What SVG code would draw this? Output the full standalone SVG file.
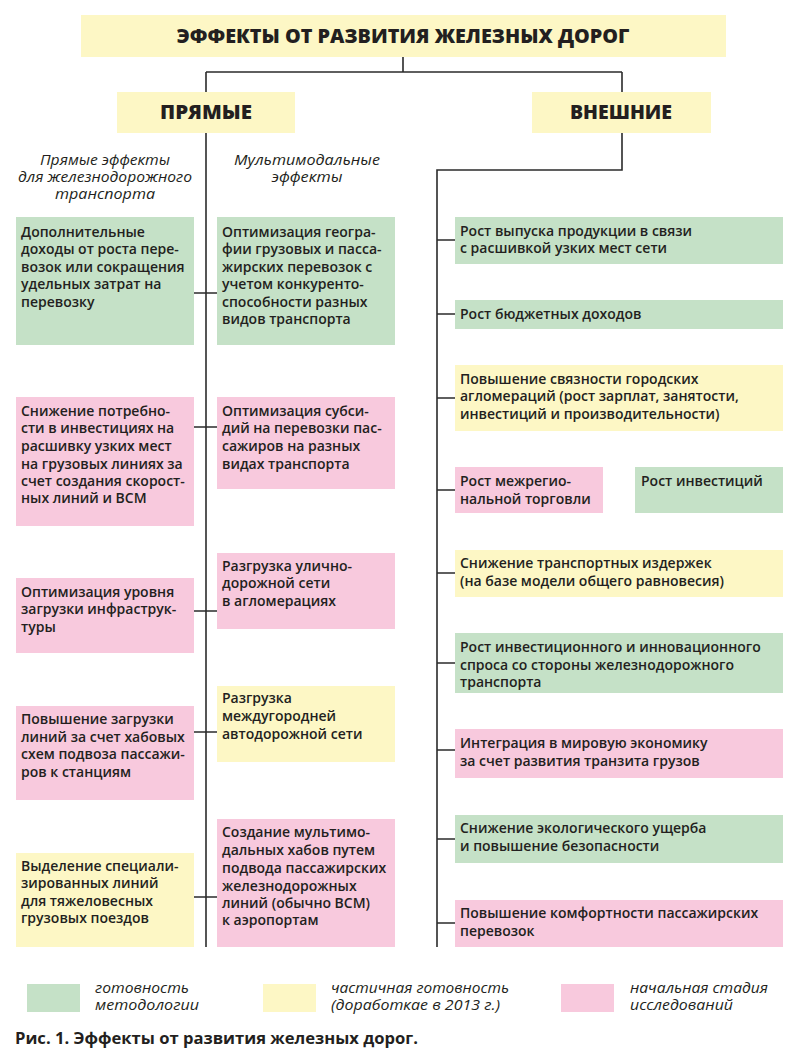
<svg xmlns="http://www.w3.org/2000/svg" width="800" height="1061" viewBox="0 0 800 1061">
<style>
.bg{fill:#ffffff}
.g{fill:#c5e1c7}
.y{fill:#fdf7c5}
.p{fill:#f8c9dd}
.t{font-family:"Open Sans","Noto Sans",sans-serif;font-size:14px;font-weight:600;fill:#231f20}
.h{font-family:"Open Sans","Noto Sans",sans-serif;font-size:19px;font-weight:800;fill:#231f20;text-anchor:middle}
.i{font-family:"Open Sans","Noto Sans",sans-serif;font-size:14px;font-style:italic;fill:#231f20}
.ic{text-anchor:middle}
.cap{font-family:"Open Sans","Noto Sans",sans-serif;font-size:16px;font-weight:700;fill:#231f20}
.ln{stroke:#2b2b2b;stroke-width:1.6;fill:none}
</style>
<rect class="bg" x="0" y="0" width="800" height="1061"/>

<g id="connectors">
<path class="ln" d="M403,57 V72 M206,72 H622 M206,72 V92 M622,72 V92"/>
<path class="ln" d="M206,133 V947"/>
<path class="ln" d="M622,133 V170 H437 V947"/>
<path class="ln" d="M194,293 H217 M194,427 H217 M194,611 H217 M194,732 H217 M194,897 H217"/>
<path class="ln" d="M437,240 H455 M437,314 H455 M437,398 H455 M437,490 H455 M437,573 H455 M437,663 H455 M437,750 H455 M437,839 H455 M437,923 H455"/>
</g>

<g id="title">
<rect class="y" x="81" y="15" width="645" height="42"/>
<text class="h" x="403" y="43" textLength="453" lengthAdjust="spacingAndGlyphs">ЭФФЕКТЫ ОТ РАЗВИТИЯ ЖЕЛЕЗНЫХ ДОРОГ</text>
</g>
<g id="direct">
<rect class="y" x="117" y="92" width="178" height="41"/>
<text class="h" x="206" y="119" textLength="92" lengthAdjust="spacingAndGlyphs">ПРЯМЫЕ</text>
</g>
<g id="external">
<rect class="y" x="532" y="92" width="179" height="41"/>
<text class="h" x="621" y="119" textLength="102" lengthAdjust="spacingAndGlyphs">ВНЕШНИЕ</text>
</g>

<g id="hdr-left">
<text class="i ic" x="105" y="165" textLength="130" lengthAdjust="spacingAndGlyphs">Прямые эффекты</text>
<text class="i ic" x="105" y="182" textLength="174" lengthAdjust="spacingAndGlyphs">для железнодорожного</text>
<text class="i ic" x="105" y="199" textLength="100" lengthAdjust="spacingAndGlyphs">транспорта</text>
</g>
<g id="hdr-mid">
<text class="i ic" x="307" y="165" textLength="146" lengthAdjust="spacingAndGlyphs">Мультимодальные</text>
<text class="i ic" x="307" y="182" textLength="71" lengthAdjust="spacingAndGlyphs">эффекты</text>
</g>

<g id="L1">
<rect class="g" x="16" y="217" width="178" height="128"/>
<text class="t" x="21" y="237">Дополнительные</text>
<text class="t" x="21" y="254">доходы от роста пере-</text>
<text class="t" x="21" y="272">возок или сокращения</text>
<text class="t" x="21" y="289">удельных затрат на</text>
<text class="t" x="21" y="307">перевозку</text>
</g>
<g id="L2">
<rect class="p" x="16" y="397" width="178" height="129"/>
<text class="t" x="21" y="416">Снижение потребно-</text>
<text class="t" x="21" y="433">сти в инвестициях на</text>
<text class="t" x="21" y="451">расшивку узких мест</text>
<text class="t" x="21" y="469">на грузовых линиях за</text>
<text class="t" x="21" y="486">счет создания скорост-</text>
<text class="t" x="21" y="503">ных линий и ВСМ</text>
</g>
<g id="L3">
<rect class="p" x="16" y="578" width="178" height="75"/>
<text class="t" x="21" y="597">Оптимизация уровня</text>
<text class="t" x="21" y="614">загрузки инфраструк-</text>
<text class="t" x="21" y="632">туры</text>
</g>
<g id="L4">
<rect class="p" x="16" y="706" width="178" height="94"/>
<text class="t" x="21" y="724">Повышение загрузки</text>
<text class="t" x="21" y="742">линий за счет хабовых</text>
<text class="t" x="21" y="759">схем подвоза пассажи-</text>
<text class="t" x="21" y="777">ров к станциям</text>
</g>
<g id="L5">
<rect class="y" x="16" y="853" width="178" height="94"/>
<text class="t" x="21" y="871">Выделение специали-</text>
<text class="t" x="21" y="888">зированных линий</text>
<text class="t" x="21" y="906">для тяжеловесных</text>
<text class="t" x="21" y="923">грузовых поездов</text>
</g>

<g id="M1">
<rect class="g" x="217" y="217" width="178" height="128"/>
<text class="t" x="222" y="237">Оптимизация геогра-</text>
<text class="t" x="222" y="254">фии грузовых и пасса-</text>
<text class="t" x="222" y="272">жирских перевозок с</text>
<text class="t" x="222" y="289">учетом конкуренто-</text>
<text class="t" x="222" y="307">способности разных</text>
<text class="t" x="222" y="324">видов транспорта</text>
</g>
<g id="M2">
<rect class="p" x="217" y="397" width="178" height="92"/>
<text class="t" x="222" y="416">Оптимизация субси-</text>
<text class="t" x="222" y="433">дий на перевозки пас-</text>
<text class="t" x="222" y="451">сажиров на разных</text>
<text class="t" x="222" y="469">видах транспорта</text>
</g>
<g id="M3">
<rect class="p" x="217" y="553" width="178" height="76"/>
<text class="t" x="222" y="571">Разгрузка улично-</text>
<text class="t" x="222" y="588">дорожной сети</text>
<text class="t" x="222" y="606">в агломерациях</text>
</g>
<g id="M4">
<rect class="y" x="217" y="686" width="178" height="76"/>
<text class="t" x="222" y="703">Разгрузка</text>
<text class="t" x="222" y="721">междугородней</text>
<text class="t" x="222" y="739">автодорожной сети</text>
</g>
<g id="M5">
<rect class="p" x="217" y="819" width="178" height="128"/>
<text class="t" x="222" y="837">Создание мультимо-</text>
<text class="t" x="222" y="855">дальных хабов путем</text>
<text class="t" x="222" y="873">подвода пассажирских</text>
<text class="t" x="222" y="891">железнодорожных</text>
<text class="t" x="222" y="908">линий (обычно ВСМ)</text>
<text class="t" x="222" y="925">к аэропортам</text>
</g>

<g id="R1">
<rect class="g" x="455" y="217" width="328" height="47"/>
<text class="t" x="460" y="236">Рост выпуска продукции в связи</text>
<text class="t" x="460" y="253">с расшивкой узких мест сети</text>
</g>
<g id="R2">
<rect class="g" x="455" y="300" width="328" height="29"/>
<text class="t" x="460" y="319">Рост бюджетных доходов</text>
</g>
<g id="R3">
<rect class="y" x="455" y="365" width="328" height="66"/>
<text class="t" x="460" y="384">Повышение связности городских</text>
<text class="t" x="460" y="401">агломераций (рост зарплат, занятости,</text>
<text class="t" x="460" y="419">инвестиций и производительности)</text>
</g>
<g id="R4">
<rect class="p" x="455" y="467" width="148" height="46"/>
<text class="t" x="460" y="486">Рост межрегио-</text>
<text class="t" x="460" y="504">нальной торговли</text>
</g>
<g id="R4b">
<rect class="g" x="635" y="467" width="148" height="46"/>
<text class="t" x="641" y="486">Рост инвестиций</text>
</g>
<g id="R5">
<rect class="y" x="455" y="550" width="328" height="47"/>
<text class="t" x="460" y="568">Снижение транспортных издержек</text>
<text class="t" x="460" y="586">(на базе модели общего равновесия)</text>
</g>
<g id="R6">
<rect class="g" x="455" y="633" width="328" height="60"/>
<text class="t" x="460" y="652">Рост инвестиционного и инновационного</text>
<text class="t" x="460" y="670">спроса со стороны железнодорожного</text>
<text class="t" x="460" y="687">транспорта</text>
</g>
<g id="R7">
<rect class="p" x="455" y="729" width="328" height="49"/>
<text class="t" x="460" y="748">Интеграция в мировую экономику</text>
<text class="t" x="460" y="766">за счет развития транзита грузов</text>
</g>
<g id="R8">
<rect class="g" x="455" y="815" width="328" height="48"/>
<text class="t" x="460" y="833">Снижение экологического ущерба</text>
<text class="t" x="460" y="851">и повышение безопасности</text>
</g>
<g id="R9">
<rect class="p" x="455" y="900" width="328" height="47"/>
<text class="t" x="460" y="918">Повышение комфортности пассажирских</text>
<text class="t" x="460" y="936">перевозок</text>
</g>

<g id="legend">
<rect class="g" x="27" y="984" width="53" height="28"/>
<text class="i" x="95" y="993" textLength="94" lengthAdjust="spacingAndGlyphs">готовность</text>
<text class="i" x="95" y="1010" textLength="104" lengthAdjust="spacingAndGlyphs">методологии</text>
<rect class="y" x="263" y="984" width="53" height="28"/>
<text class="i" x="331" y="993" textLength="178" lengthAdjust="spacingAndGlyphs">частичная готовность</text>
<text class="i" x="331" y="1010" textLength="169" lengthAdjust="spacingAndGlyphs">(доработкае в 2013 г.)</text>
<rect class="p" x="561" y="984" width="53" height="28"/>
<text class="i" x="630" y="993" textLength="138" lengthAdjust="spacingAndGlyphs">начальная стадия</text>
<text class="i" x="630" y="1010" textLength="103" lengthAdjust="spacingAndGlyphs">исследований</text>
</g>
<g id="caption">
<text class="cap" x="15" y="1044" textLength="403" lengthAdjust="spacingAndGlyphs">Рис. 1. Эффекты от развития железных дорог.</text>
</g>
</svg>
